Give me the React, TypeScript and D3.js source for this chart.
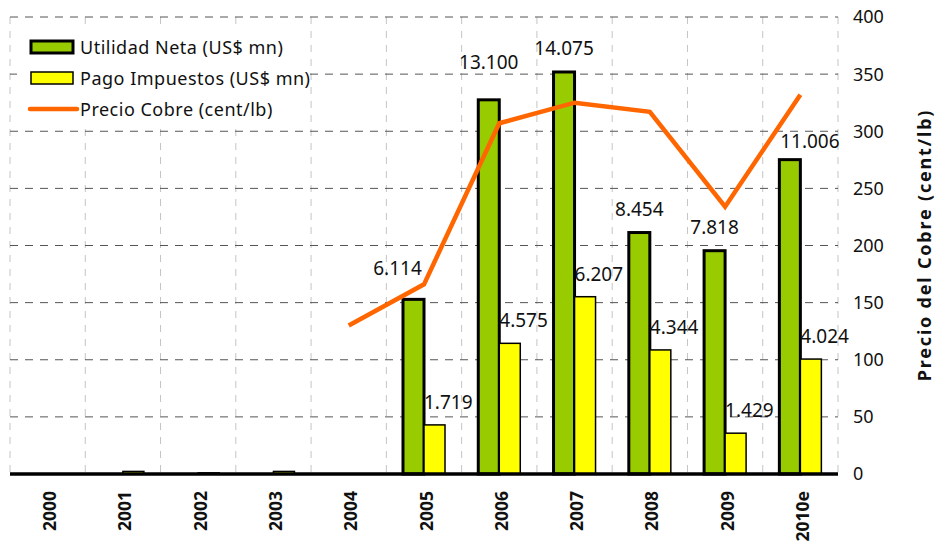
import React, { useEffect, useRef } from "react";
import * as d3 from "d3";

const years = ["2000", "2001", "2002", "2003", "2004", "2005", "2006", "2007", "2008", "2009", "2010e"];
const utilidadNeta = [0, 0, 0, 0, 0, 6114, 13100, 14075, 8454, 7818, 11006];
const pagoImpuestos = [0, 90, 40, 90, 0, 1719, 4575, 6207, 4344, 1429, 4024];
const precioYears = ["2004", "2005", "2006", "2007", "2008", "2009", "2010e"];
const precioCobre = [130, 166, 307, 325, 317, 234, 332];
const rightTicks = [0, 50, 100, 150, 200, 250, 300, 350, 400];
const legendLabels = ["Utilidad Neta (US$ mn)", "Pago Impuestos (US$ mn)", "Precio Cobre (cent/lb)"];

// manual label nudges (layout only) for the green-bar labels, as in the original
const greenLabelDx = [0, 0, 0, 0, 0, -16, 0, 0, 0, 0, 20];
const greenLabelDy = [0, 0, 0, 0, 0, -7, -14, 0, 0, 0, 5];

const fmt = (v: number) => (v / 1000).toFixed(3);

export default function App() {
  const ref = useRef<SVGSVGElement>(null);
  useEffect(() => {
    const svg = d3.select(ref.current);
    svg.selectAll("*").remove();
    const left = 10, right = 838, top = 17, bottom = 474;
    const font = "'Noto Sans', sans-serif";

    const x = d3.scaleBand().domain(years).range([left, right]).padding(0);
    const yL = d3.scaleLinear().domain([0, 16000]).range([bottom, top]);
    const yR = d3.scaleLinear().domain([0, 400]).range([bottom, top]);
    const bw = 21;

    // vertical gridlines
    const bounds = years.map((y) => x(y)!).concat([right]);
    bounds.forEach((bx) => {
      svg.append("line").attr("x1", bx).attr("x2", bx).attr("y1", top).attr("y2", bottom)
        .attr("stroke", "#c4c4c4").attr("stroke-width", 1).attr("stroke-dasharray", "7,7");
    });
    // horizontal gridlines
    rightTicks.filter((t) => t > 0).forEach((t) => {
      svg.append("line").attr("x1", left).attr("x2", right).attr("y1", yR(t)).attr("y2", yR(t))
        .attr("stroke", "#555").attr("stroke-width", 1).attr("stroke-dasharray", "8,7");
    });

    // bars
    years.forEach((yr, i) => {
      const cx = x(yr)! + x.bandwidth() / 2;
      if (utilidadNeta[i] > 0) {
        svg.append("rect").attr("x", cx - bw).attr("y", yL(utilidadNeta[i])).attr("width", bw)
          .attr("height", bottom - yL(utilidadNeta[i])).attr("fill", "#99cc00")
          .attr("stroke", "#000").attr("stroke-width", 3);
      }
      if (pagoImpuestos[i] > 0) {
        svg.append("rect").attr("x", cx).attr("y", yL(pagoImpuestos[i])).attr("width", bw)
          .attr("height", bottom - yL(pagoImpuestos[i])).attr("fill", "#ffff00")
          .attr("stroke", "#000").attr("stroke-width", 1.5);
      }
    });

    // axis line
    svg.append("line").attr("x1", left).attr("x2", right).attr("y1", bottom).attr("y2", bottom)
      .attr("stroke", "#000").attr("stroke-width", 3.5);

    // copper line
    const line = d3.line<number>()
      .x((_, i) => x(precioYears[i])! + x.bandwidth() / 2)
      .y((d) => yR(d));
    svg.append("path").attr("d", line(precioCobre)).attr("fill", "none")
      .attr("stroke", "#ff6600").attr("stroke-width", 4.5).attr("stroke-linejoin", "miter");

    // labels
    years.forEach((yr, i) => {
      const cx = x(yr)! + x.bandwidth() / 2;
      if (utilidadNeta[i] > 0) {
        svg.append("text").attr("x", cx - bw / 2 + greenLabelDx[i])
          .attr("y", yL(utilidadNeta[i]) - 17 + greenLabelDy[i])
          .attr("text-anchor", "middle").attr("font-family", font).attr("font-size", 19)
          .attr("fill", "#111").text(fmt(utilidadNeta[i]));
      }
      if (pagoImpuestos[i] > 1000) {
        svg.append("text").attr("x", cx).attr("y", yL(pagoImpuestos[i]) - 16)
          .attr("text-anchor", "start").attr("font-family", font).attr("font-size", 19)
          .attr("fill", "#111").text(fmt(pagoImpuestos[i]));
      }
    });

    // right axis labels
    rightTicks.forEach((t) => {
      svg.append("text").attr("x", 853).attr("y", yR(t)).attr("dy", "0.36em")
        .attr("font-family", font).attr("font-size", 18).attr("fill", "#111").text(String(t));
    });
    svg.append("text").attr("transform", `translate(931,245) rotate(-90)`)
      .attr("text-anchor", "middle").attr("font-family", font).attr("font-size", 18)
      .attr("letter-spacing", 1.8)
      .attr("font-weight", "bold").attr("fill", "#111").text("Precio del Cobre (cent/lb)");

    // x labels
    years.forEach((yr) => {
      const cx = x(yr)! + x.bandwidth() / 2;
      svg.append("text").attr("transform", `translate(${cx + 8.5},491) rotate(-90)`)
        .attr("text-anchor", "end").attr("font-family", font).attr("font-size", 17.5)
        .attr("font-weight", "bold").attr("fill", "#111").text(yr);
    });

    // legend
    const lg = svg.append("g");
    lg.append("rect").attr("x", 17).attr("y", 30).attr("width", 292).attr("height", 98).attr("fill", "#fff");
    lg.append("rect").attr("x", 31).attr("y", 41).attr("width", 42).attr("height", 12)
      .attr("fill", "#99cc00").attr("stroke", "#000").attr("stroke-width", 3);
    lg.append("rect").attr("x", 31).attr("y", 72).attr("width", 42).attr("height", 12)
      .attr("fill", "#ffff00").attr("stroke", "#000").attr("stroke-width", 1.5);
    lg.append("line").attr("x1", 30).attr("x2", 77).attr("y1", 109).attr("y2", 109)
      .attr("stroke", "#ff6600").attr("stroke-width", 4.5).attr("stroke-linecap", "round");
    [48, 79, 110].forEach((yy, i) => {
      lg.append("text").attr("x", 80).attr("y", yy).attr("dy", "0.36em")
        .attr("font-family", font).attr("font-size", 18).attr("letter-spacing", 0.5)
        .attr("fill", "#111").text(legendLabels[i]);
    });
  }, []);
  return (
    <svg ref={ref} width={938} height={544}
      style={{ position: "absolute", left: 0, top: 0, background: "#fff" }} />
  );
}
